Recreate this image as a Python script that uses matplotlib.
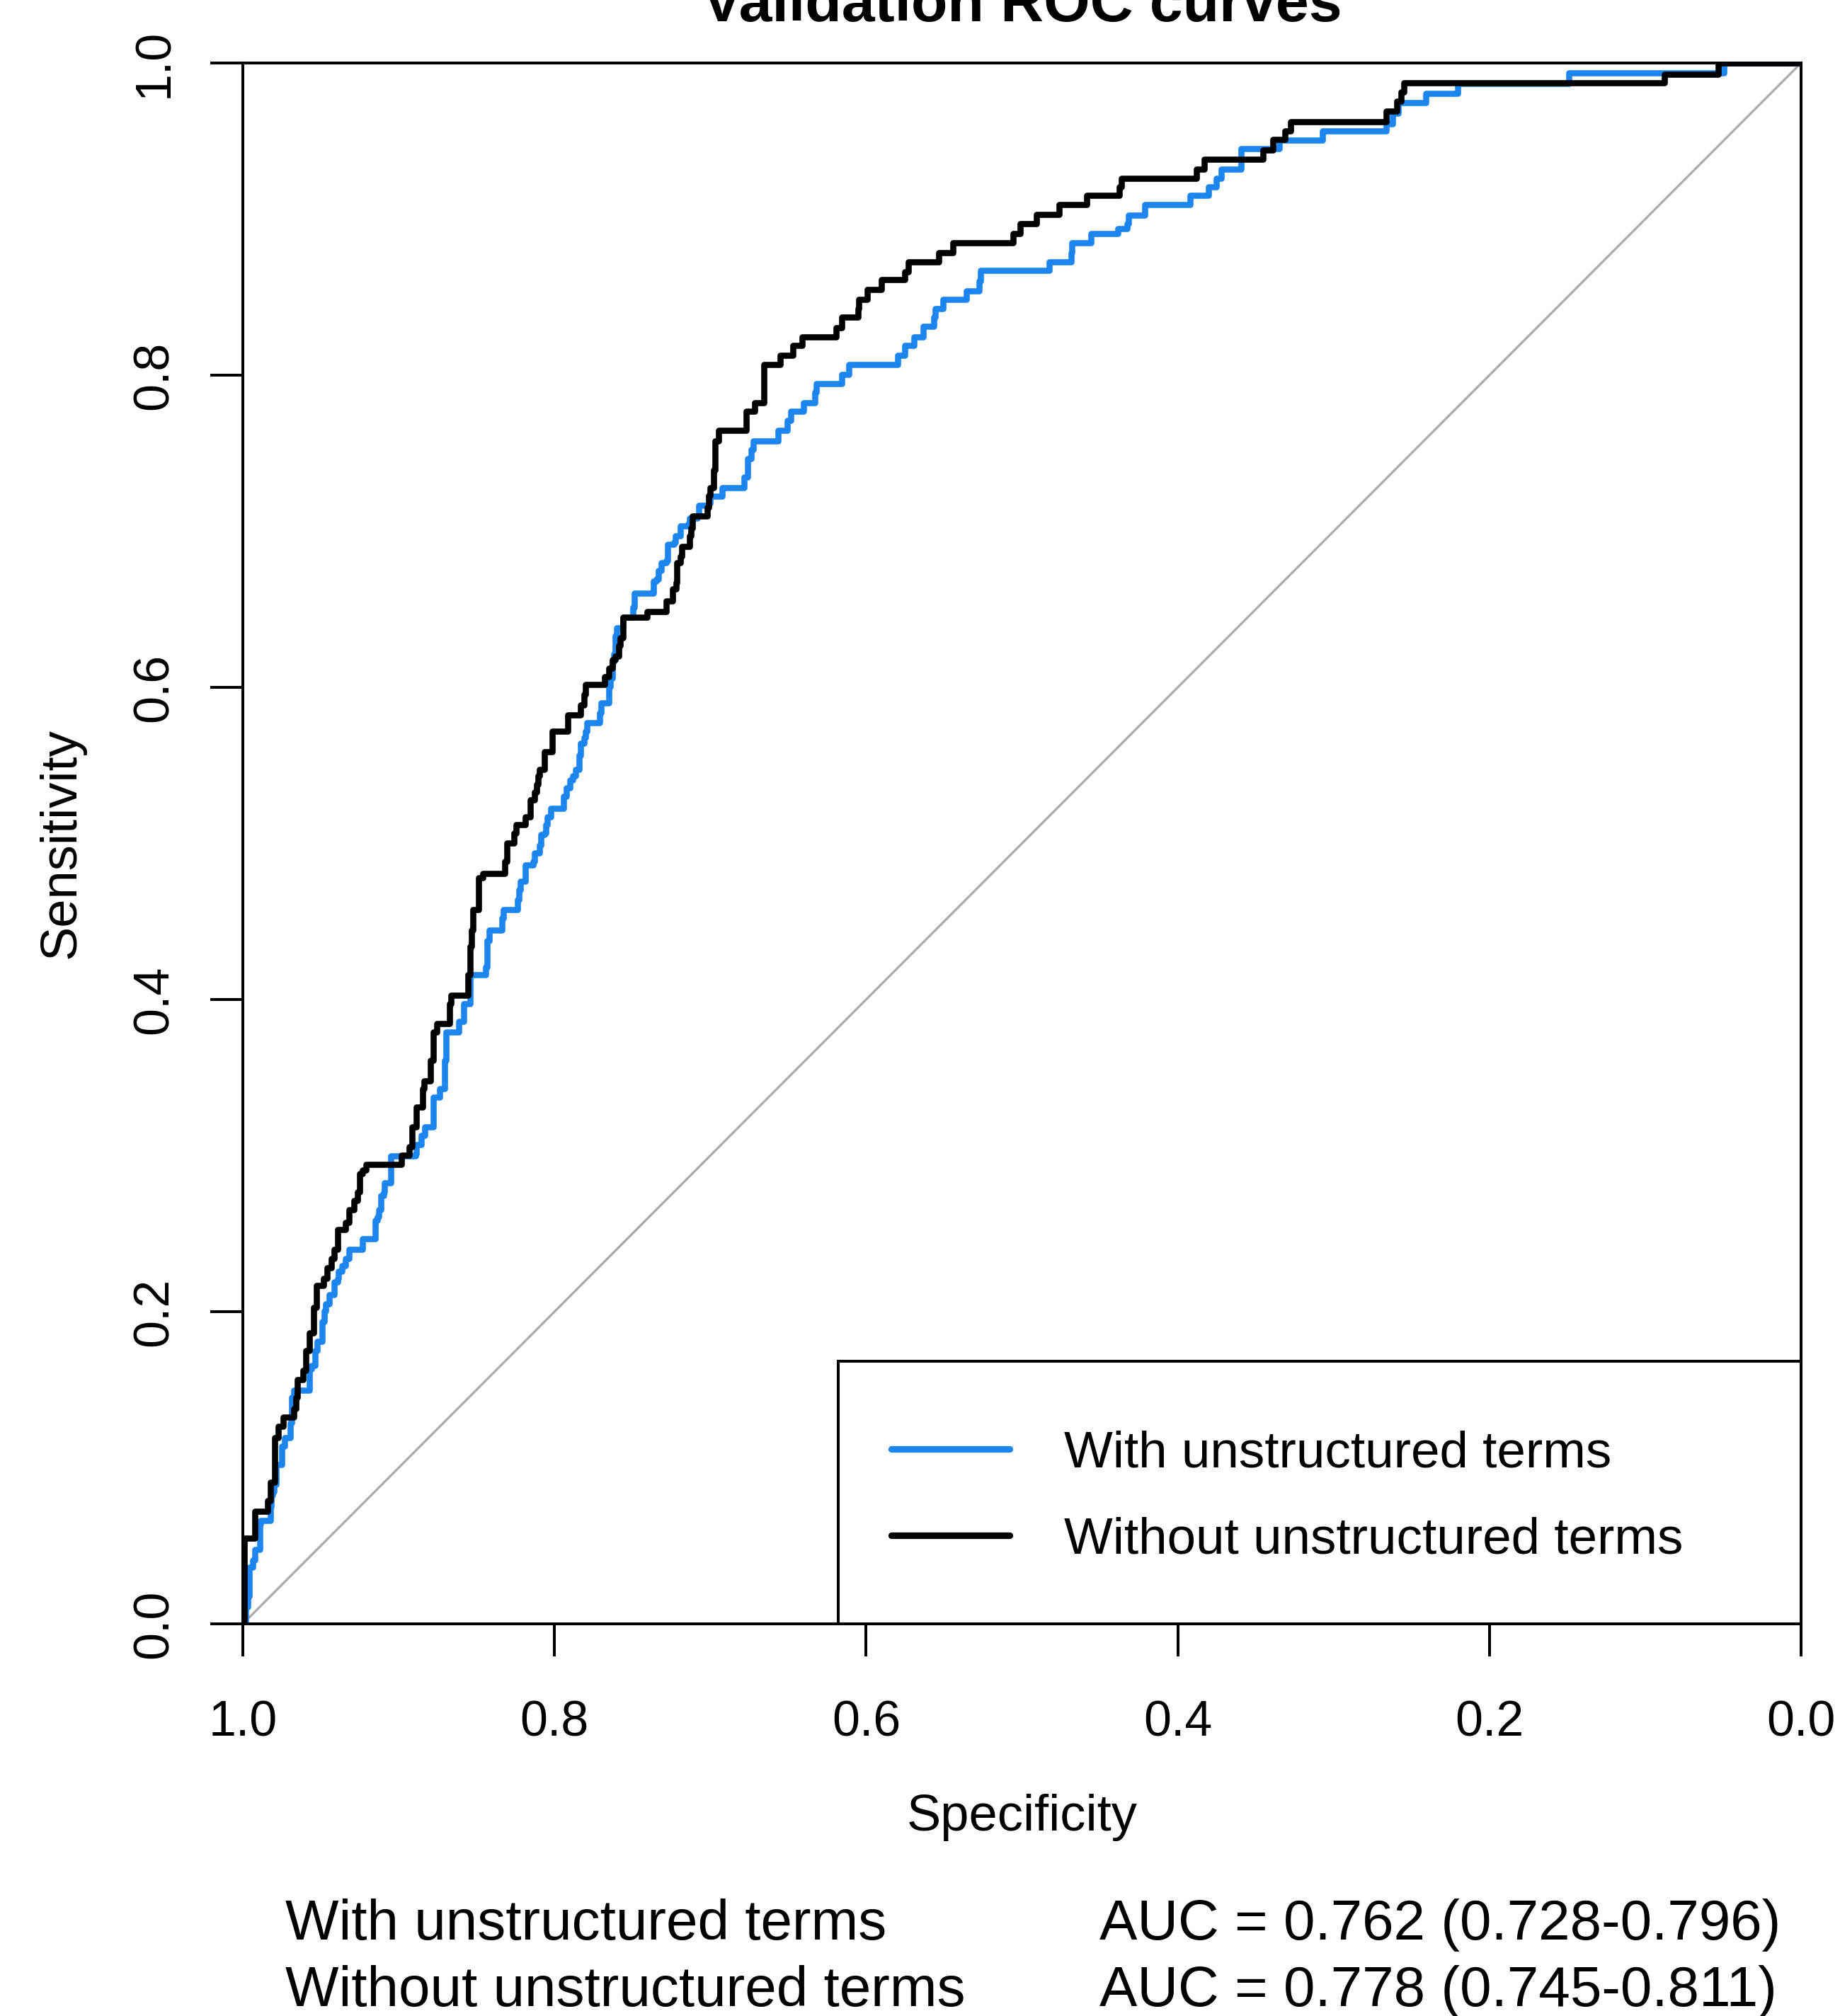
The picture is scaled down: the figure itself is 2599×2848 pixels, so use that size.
import matplotlib
matplotlib.use("Agg")
import matplotlib.pyplot as plt
from matplotlib.patches import Rectangle
from matplotlib.lines import Line2D

plt.rcParams['font.family'] = ['Liberation Sans', 'DejaVu Sans']

# ---------------- data ----------------
title = "Validation ROC curves"
series_names = ["With unstructured terms", "Without unstructured terms"]
auc_texts = ["AUC = 0.762 (0.728-0.796)", "AUC = 0.778 (0.745-0.811)"]
tick_values = [0.0, 0.2, 0.4, 0.6, 0.8, 1.0]
tick_labels = ["0.0", "0.2", "0.4", "0.6", "0.8", "1.0"]

# "With unstructured terms" ROC (specificity, sensitivity) step vertices
with_spec = [1.0, 0.9983, 0.9968, 0.996, 0.9938, 0.9923, 0.9892, 0.9885, 0.9824, 0.9817,
             0.9809, 0.9801, 0.9786, 0.9749, 0.9733, 0.9696, 0.9688, 0.9673, 0.9574, 0.9559,
             0.9537, 0.9522, 0.9491, 0.9476, 0.9468, 0.9446, 0.9415, 0.9393, 0.9385, 0.9363,
             0.934, 0.9317, 0.9234, 0.915, 0.9135, 0.9128, 0.9113, 0.9097, 0.909, 0.9052,
             0.8893, 0.8886, 0.8855, 0.8832, 0.8779, 0.8776, 0.8735, 0.8705, 0.8694, 0.8613,
             0.8583, 0.8542, 0.8441, 0.8431, 0.8421, 0.8339, 0.8329, 0.8238, 0.8228, 0.8218,
             0.8187, 0.8137, 0.8126, 0.8096, 0.8086, 0.8065, 0.8055, 0.8045, 0.8025, 0.7944,
             0.7924, 0.7903, 0.7883, 0.7863, 0.7842, 0.7832, 0.7812, 0.7802, 0.7792, 0.7711,
             0.7701, 0.765, 0.764, 0.763, 0.7619, 0.7609, 0.7599, 0.7558, 0.7498, 0.7488,
             0.7366, 0.7346, 0.7335, 0.7315, 0.7285, 0.7274, 0.7234, 0.7224, 0.7194, 0.7143,
             0.7133, 0.7082, 0.7072, 0.7011, 0.7001, 0.6922, 0.6783, 0.676, 0.6737, 0.6725,
             0.6563, 0.6505, 0.6482, 0.6401, 0.6331, 0.632, 0.6157, 0.6111, 0.5798, 0.5751,
             0.5694, 0.5636, 0.5566, 0.5555, 0.5508, 0.5358, 0.5276, 0.5265, 0.4825, 0.4685,
             0.4678, 0.4558, 0.4384, 0.4326, 0.4314, 0.4211, 0.392, 0.3805, 0.3752, 0.3723,
             0.3592, 0.335, 0.307, 0.2662, 0.2623, 0.2585, 0.2407, 0.2203, 0.1489, 0.0495,
             0.0]
with_sens = [0.0, 0.0107, 0.0176, 0.0361, 0.0408, 0.0477, 0.0639, 0.0662, 0.0755, 0.0824,
             0.0848, 0.0894, 0.1021, 0.1137, 0.1194, 0.1287, 0.1449, 0.1495, 0.1634, 0.1657,
             0.175, 0.1808, 0.1935, 0.2005, 0.2051, 0.2108, 0.219, 0.2213, 0.2259, 0.2293,
             0.234, 0.2398, 0.2467, 0.2583, 0.2606, 0.2652, 0.2745, 0.2768, 0.2826, 0.2999,
             0.3011, 0.3069, 0.3127, 0.3184, 0.33, 0.3376, 0.3428, 0.361, 0.3793, 0.3858,
             0.3975, 0.4157, 0.4209, 0.4378, 0.4444, 0.4522, 0.4574, 0.4638, 0.4704, 0.4756,
             0.486, 0.4886, 0.4938, 0.499, 0.5055, 0.5068, 0.512, 0.5172, 0.5224, 0.5302,
             0.5355, 0.5407, 0.5432, 0.5472, 0.5563, 0.5641, 0.568, 0.5719, 0.5771, 0.5836,
             0.5901, 0.6005, 0.6057, 0.6161, 0.6213, 0.6331, 0.6383, 0.6448, 0.6513, 0.6604,
             0.6682, 0.6695, 0.6747, 0.68, 0.6813, 0.6917, 0.693, 0.6969, 0.7034, 0.7047,
             0.7086, 0.7099, 0.7164, 0.7177, 0.7223, 0.7279, 0.7345, 0.7467, 0.7523, 0.758,
             0.7646, 0.7712, 0.7768, 0.7825, 0.789, 0.7946, 0.8003, 0.8069, 0.8125, 0.8191,
             0.8247, 0.8313, 0.837, 0.8426, 0.8483, 0.8539, 0.8605, 0.867, 0.8727, 0.8783,
             0.8849, 0.8906, 0.8938, 0.8971, 0.9027, 0.9093, 0.915, 0.9206, 0.9262, 0.9319,
             0.9451, 0.9504, 0.9565, 0.961, 0.9678, 0.9746, 0.9806, 0.9867, 0.9935, 1.0,
             1.0]

# "Without unstructured terms" ROC (specificity, sensitivity) step vertices
without_spec = [1.0, 0.999, 0.9923, 0.984, 0.9824, 0.9794, 0.9771, 0.9741, 0.9673, 0.9658,
                0.965, 0.9612, 0.9597, 0.9574, 0.9544, 0.9529, 0.9483, 0.9461, 0.9431, 0.9415,
                0.9393, 0.934, 0.9317, 0.9287, 0.9264, 0.9249, 0.9234, 0.921, 0.8984, 0.8931,
                0.8916, 0.8887, 0.8846, 0.8836, 0.8796, 0.878, 0.8776, 0.8755, 0.8674, 0.8664,
                0.8556, 0.8542, 0.8532, 0.8522, 0.8485, 0.8461, 0.8319, 0.8305, 0.8258, 0.8248,
                0.8187, 0.8157, 0.813, 0.8116, 0.8106, 0.8096, 0.8065, 0.8015, 0.7914, 0.7832,
                0.7812, 0.7802, 0.768, 0.765, 0.763, 0.7609, 0.7589, 0.7579, 0.7558, 0.7407,
                0.7285, 0.7244, 0.7218, 0.7214, 0.7194, 0.7184, 0.7133, 0.7123, 0.7117, 0.7021,
                0.7011, 0.7003, 0.698, 0.6969, 0.6946, 0.6771, 0.6714, 0.6656, 0.6552, 0.647,
                0.6412, 0.6192, 0.6157, 0.6053, 0.6046, 0.5995, 0.5902, 0.5751, 0.5728, 0.5532,
                0.5444, 0.5056, 0.501, 0.4906, 0.4762, 0.4586, 0.4377, 0.4361, 0.3881, 0.3828,
                0.3452, 0.3389, 0.3312, 0.3274, 0.2662, 0.2593, 0.2567, 0.2547, 0.0877, 0.0533,
                0.0]
without_sens = [0.0, 0.0547, 0.072, 0.079, 0.0905, 0.1194, 0.1264, 0.1322, 0.138, 0.1449,
                0.1565, 0.1623, 0.175, 0.1865, 0.2028, 0.2166, 0.2213, 0.2282, 0.234, 0.2398,
                0.2525, 0.2571, 0.2652, 0.271, 0.2768, 0.2883, 0.2907, 0.2942, 0.3004, 0.3057,
                0.3184, 0.3311, 0.3428, 0.348, 0.361, 0.3662, 0.3793, 0.3844, 0.3975, 0.4027,
                0.4157, 0.4339, 0.4444, 0.4574, 0.4782, 0.4808, 0.4886, 0.5003, 0.5068, 0.512,
                0.5172, 0.5277, 0.5328, 0.538, 0.5432, 0.5472, 0.5589, 0.5719, 0.5823, 0.5888,
                0.5953, 0.6018, 0.607, 0.6122, 0.6175, 0.62, 0.6266, 0.6318, 0.6448, 0.6487,
                0.6552, 0.663, 0.6669, 0.68, 0.6839, 0.6903, 0.6969, 0.7021, 0.7099, 0.7151,
                0.7229, 0.7279, 0.7392, 0.758, 0.7646, 0.7768, 0.7825, 0.8069, 0.8125, 0.8191,
                0.8247, 0.8304, 0.837, 0.8426, 0.8483, 0.8548, 0.8614, 0.8661, 0.8727, 0.8783,
                0.8849, 0.8906, 0.8971, 0.9031, 0.9093, 0.915, 0.9206, 0.9263, 0.9319, 0.9385,
                0.9444, 0.9512, 0.9565, 0.9625, 0.9693, 0.9753, 0.9814, 0.9874, 0.9927, 1.0,
                1.0]

colors = ['#1C86EE', '#000000']

# ---------------- figure ----------------
W, H = 2599, 2848
fig = plt.figure(figsize=(W / 100, H / 100), dpi=100)
ax_left, ax_right, ax_top, ax_bottom = 343, 2544, 89, 2294
ax = fig.add_axes([ax_left / W, 1 - ax_bottom / H,
                   (ax_right - ax_left) / W, (ax_bottom - ax_top) / H])

ax.set_xlim(1, 0)
ax.set_ylim(0, 1)

# chance diagonal
ax.plot([1, 0], [0, 1], color='#AAAAAA', lw=2.3, zorder=1)

ax.plot(with_spec, with_sens, drawstyle='steps-post', color=colors[0], lw=6.2,
        solid_capstyle='round', solid_joinstyle='round', zorder=2)
ax.plot(without_spec, without_sens, drawstyle='steps-post', color=colors[1], lw=6.2,
        solid_capstyle='round', solid_joinstyle='round', zorder=3)

for sp in ax.spines.values():
    sp.set_linewidth(2.9)

ax.set_xticks(tick_values)
ax.set_xticklabels(tick_labels)
ax.set_yticks(tick_values)
ax.set_yticklabels(tick_labels)
ax.tick_params(axis='both', direction='out', length=33, width=2.9)
ax.tick_params(axis='x', labelsize=50.4, pad=81.4)
ax.tick_params(axis='y', labelsize=50.4, pad=43.2)
for lbl in ax.get_xticklabels():
    lbl.set_va('baseline')
for lbl in ax.get_yticklabels():
    lbl.set_rotation(90)
    lbl.set_rotation_mode('anchor')
    lbl.set_ha('center')
    lbl.set_va('baseline')

# axis labels
ax.set_xlabel('Specificity', fontsize=52)
ax.xaxis.label.set_va('baseline')
ax.xaxis.set_label_coords(0.5, (ax_bottom - 2586) / (ax_bottom - ax_top))
ax.set_ylabel('Sensitivity', fontsize=52)
ax.yaxis.label.set_rotation_mode('anchor')
ax.yaxis.label.set_ha('center')
ax.yaxis.label.set_va('baseline')
ax.yaxis.set_label_coords((106 - ax_left) / (ax_right - ax_left), 0.5)

# title (partly above the canvas, as in the reference)
ax.set_title(title, fontsize=60.7, fontweight='bold', pad=0,
             y=(ax_bottom - 30) / (ax_bottom - ax_top), va='baseline')

# legend box and entries
lx0 = (1184 - ax_left) / (ax_right - ax_left)
ly1 = (ax_bottom - 1923) / (ax_bottom - ax_top)
ax.add_patch(Rectangle((lx0, 0), 1 - lx0, ly1, transform=ax.transAxes, fill=False,
                       lw=2.9, ec='black', clip_on=False, zorder=5))
handles = [Line2D([], [], color=c, lw=6.7, solid_capstyle='round') for c in colors]
ax.legend(handles, series_names, loc='center left',
          bbox_to_anchor=((1259 - ax_left) / (ax_right - ax_left),
                          (ax_bottom - 2115) / (ax_bottom - ax_top)),
          frameon=False, borderpad=0, borderaxespad=0, handlelength=2.29,
          handletextpad=1.05, labelspacing=0.75, fontsize=52.5)

# AUC summary under the plot
rows_y = [2740, 2834]
for name, auc, yb in zip(series_names, auc_texts, rows_y):
    fig.text(403 / W, 1 - yb / H, name, fontsize=57.6, va='baseline', ha='left')
    fig.text(1553 / W, 1 - yb / H, auc, fontsize=57.6, va='baseline', ha='left')

fig.savefig('out.png', dpi=100)
